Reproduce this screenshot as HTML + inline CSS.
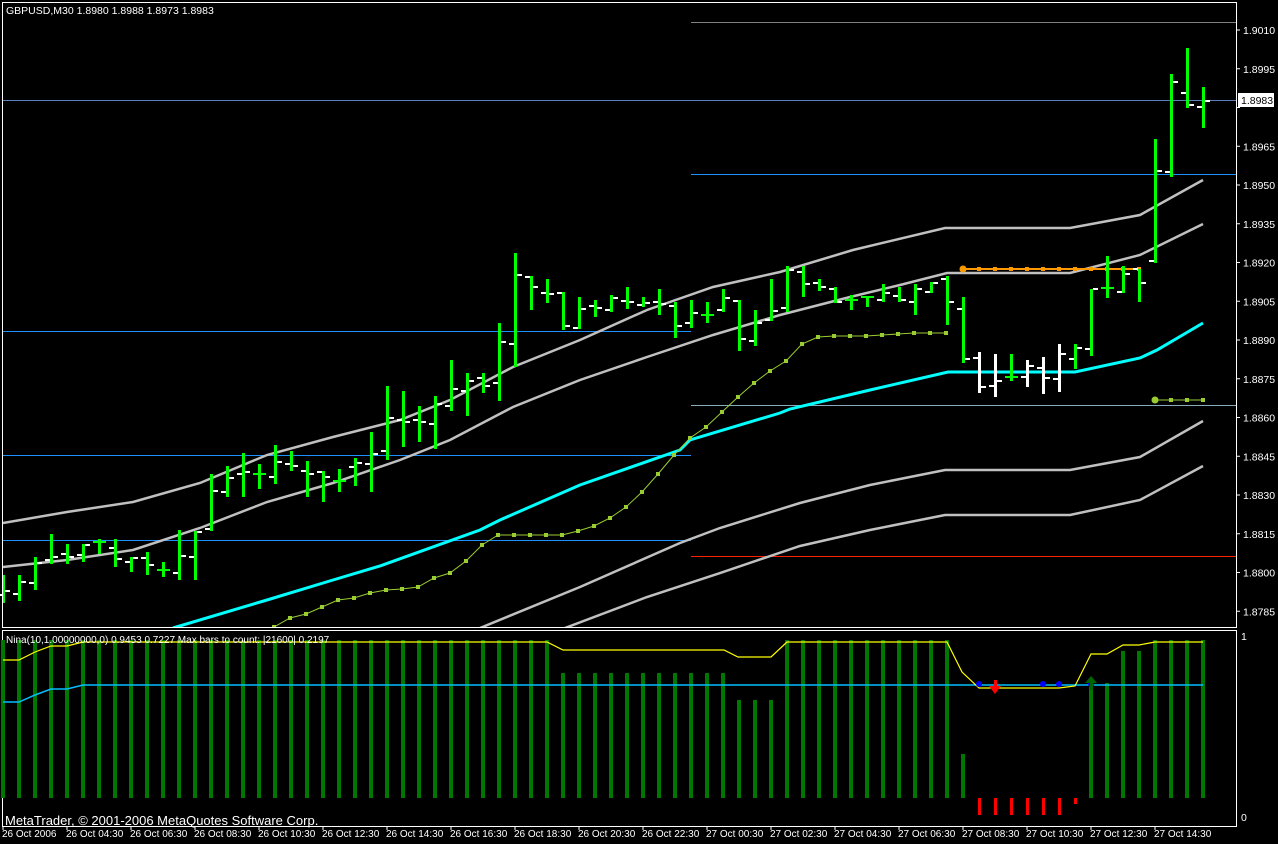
<!DOCTYPE html>
<html><head><meta charset="utf-8"><style>
html,body{margin:0;padding:0;background:#000;width:1278px;height:844px;overflow:hidden}
svg{display:block}
text{font-family:"Liberation Sans","DejaVu Sans",sans-serif;font-size:10.5px;fill:#fff}
</style></head><body>
<svg id="s" width="1278" height="844" xmlns="http://www.w3.org/2000/svg">
<defs><clipPath id="m"><rect x="3" y="3" width="1233" height="624"/></clipPath></defs>
<rect width="1278" height="844" fill="#000"/>
<g id="main" clip-path="url(#m)">
<line x1="691" y1="22.5" x2="1236" y2="22.5" stroke="#808080"/>
<line x1="3" y1="100.5" x2="1236" y2="100.5" stroke="#5a80c0"/>
<line x1="691" y1="174.5" x2="1236" y2="174.5" stroke="#1e90ff"/>
<line x1="3" y1="331.5" x2="691" y2="331.5" stroke="#1e90ff"/>
<line x1="691" y1="405.5" x2="1236" y2="405.5" stroke="#8ab"/>
<line x1="3" y1="455.5" x2="691" y2="455.5" stroke="#1e90ff"/>
<line x1="3" y1="540.5" x2="691" y2="540.5" stroke="#1e90ff"/>
<line x1="691" y1="556.5" x2="1236" y2="556.5" stroke="#ff2000"/>
<polyline fill="none" stroke="#c0c0c0" stroke-width="2.5" points="3,523 67,512 133,502 200,483 267,455 333,437 400,420 450,400 513,367 580,340 647,310 713,287 780,272 853,250 945,228 1070,228 1140,215 1203,180"/>
<polyline fill="none" stroke="#c0c0c0" stroke-width="2.5" points="3,567 67,560 133,550 200,528 267,502 333,483 400,460 450,440 513,407 580,380 647,357 713,335 780,315 850,297 900,285 947,273 1070,273 1140,255 1203,224"/>
<polyline fill="none" stroke="#c0c0c0" stroke-width="2.5" points="480,628 580,587 680,543 720,528 800,503 870,485 945,470 1070,470 1140,457 1203,421"/>
<polyline fill="none" stroke="#c0c0c0" stroke-width="2.5" points="565,628 647,597 720,573 800,546 870,530 945,515 1070,515 1140,500 1203,466"/>
<polyline fill="none" stroke="#00ffff" stroke-width="3" points="173,628 267,600 333,580 380,566 480,530 500,520 580,485 680,450 690,440 780,413 790,409 870,390 948,372 1075,372 1140,358 1157,350 1203,323"/>
<polyline id="yg" fill="none" stroke="#9acd32" stroke-width="1" points=""/>
<line x1="963" y1="269" x2="1139" y2="269" stroke="#ff9900" stroke-width="2"/>
<circle cx="963" cy="269" r="3.5" fill="#ff9900"/>
<line x1="1155" y1="400" x2="1203" y2="400" stroke="#9acd32" stroke-width="1"/>
<circle cx="1155" cy="400" r="3.5" fill="#9acd32"/>
</g>
<g id="bars"></g>
<rect x="2.5" y="2.5" width="1234" height="625" fill="none" stroke="#fff"/>
<rect x="2.5" y="630.5" width="1234" height="196" fill="none" stroke="#fff"/>
<text x="6" y="14">GBPUSD,M30  1.8980 1.8988 1.8973 1.8983</text>
<g id="ax"></g>
<rect x="1238" y="93" width="36" height="14" fill="#fff"/>
<text x="1241" y="104" style="fill:#000">1.8983</text>
<g id="ind"></g>
<text x="6" y="643" style="font-size:10px">Nina(10,1.00000000,0) 0.9453 0.7227  Max bars to count: |21600|  0.2197</text>
<text x="5" y="825" style="font-size:13px">MetaTrader, © 2001-2006 MetaQuotes Software Corp.</text>
<text x="1241" y="640">1</text>
<text x="1241" y="821">0</text>
</svg>
<script>
(function(){
var NS="http://www.w3.org/2000/svg";
function el(p,t,a){var e=document.createElementNS(NS,t);for(var k in a)e.setAttribute(k,a[k]);p.appendChild(e);return e;}
var D=[[575,603,595,591],[575,601,594,582],[557,590,583,563],[534,564,560,557],[544,564,554,557],[544,562,555,545],[539,554,542,542],[539,567,548,559],[557,572,562,558],[552,575,558,565],[562,577,570,570],[530,580,573,556],[531,580,557,532],[474,531,529,491],[466,497,492,478],[453,497,474,472],[464,489,474,474],[445,484,477,462],[451,471,464,466],[461,497,471,474],[471,502,472,477],[469,492,481,481],[458,486,467,463],[432,492,464,454],[386,460,451,418],
[391,447,420,422],[406,442,420,422],[396,449,424,404],[360,411,406,389],[373,416,391,381],[373,393,378,386],[323,401,383,342],[253,367,344,275],[276,310,277,287],[279,303,293,294],[292,330,293,326],[297,329,328,309],[300,317,306,308],[295,312,310,298],[287,309,301,302],[297,307,305,303],[289,315,302,304],[302,338,306,326],[300,328,323,313],[302,323,315,315],[289,312,310,298],[300,351,301,339],[310,346,341,323],[279,321,320,311],[266,312,308,270],[266,297,272,284],[279,291,283,287],[287,303,289,302],[295,310,300,300],[296,307,297,297],[284,302,300,293],[287,302,296,300],[284,315,302,289],[282,293,292,283],[276,325,279,302],[297,363,309,359],[352,393,358,387],[354,397,386,381],[354,381,377,377],[360,387,377,366],[357,394,368,378],[344,392,379,354],[344,369,359,348],[289,356,349,289],[256,298,288,288],[266,293,292,274],[269,302,269,283],[139,263,261,171],[74,177,172,82],[48,108,93,105],[87,128,107,101]];
var W={61:1,62:1,64:1,65:1,66:1};
var g=document.getElementById('bars');
D.forEach(function(b,i){var x=3+16*i,c=W[i]?'#ffffff':'#00ff00';
el(g,'rect',{x:x-1,y:b[0],width:3,height:b[1]-b[0],fill:c});
if(b[2]==b[3]){el(g,'rect',{x:x-6,y:b[2]-1,width:13,height:2,fill:c});}
else{el(g,'rect',{x:x-6,y:b[2]-1,width:5,height:2,fill:'#fff'});el(g,'rect',{x:x+2,y:b[3]-1,width:5,height:2,fill:'#fff'});}
});
var yg=[[274,627],[290,618],[306,614],[322,607],[338,600],[354,598],[370,593],[386,590],[402,589],[418,587],[434,578],[450,573],[466,561],[482,545],[498,535],[514,535],[530,535],[546,535],[562,535],[578,531],[594,526],[610,518],[626,507],[642,492],[658,474],[674,455],[690,438],[706,427],[722,412],[738,397],[754,383],[770,371],[786,361],[802,344],[818,337],[834,336],[850,336],[866,336],[882,335],[898,334],[914,333],[930,333],[946,333]];
document.getElementById('yg').setAttribute('points',yg.map(function(p){return p.join(',')}).join(' '));
var mg=document.getElementById('main');
yg.forEach(function(p){el(mg,'rect',{x:p[0]-2,y:p[1]-2,width:4,height:4,fill:'#9acd32'});});
for(var x=979;x<=1139;x+=16)el(mg,'rect',{x:x-2,y:267,width:4,height:4,fill:'#ff9900'});
for(x=1171;x<=1203;x+=16)el(mg,'rect',{x:x-2,y:398,width:4,height:4,fill:'#9acd32'});
var ax=document.getElementById('ax');
for(var k=0;k<16;k++){var y=30+k*38.75,v=(1.9010-k*0.0015).toFixed(4);
el(ax,'line',{x1:1236,y1:y,x2:1240,y2:y,stroke:'#fff'});
if(k!=2){var t=el(ax,'text',{x:1243,y:y+4});t.textContent=v;}}
var tl=['26 Oct 2006','26 Oct 04:30','26 Oct 06:30','26 Oct 08:30','26 Oct 10:30','26 Oct 12:30','26 Oct 14:30','26 Oct 16:30','26 Oct 18:30','26 Oct 20:30','26 Oct 22:30','27 Oct 00:30','27 Oct 02:30','27 Oct 04:30','27 Oct 06:30','27 Oct 08:30','27 Oct 10:30','27 Oct 12:30','27 Oct 14:30'];
tl.forEach(function(s,k){var x=3+64*k;el(ax,'line',{x1:x,y1:826,x2:x,y2:830,stroke:'#fff'});var t=el(ax,'text',{x:x-1,y:837,style:'font-size:10px'});t.textContent=s;});
var ig=document.getElementById('ind');
for(var i=0;i<76;i++){var bx=3+16*i,tp=640;
if(i>=35&&i<=45)tp=673;if(i>=46&&i<=48)tp=700;
if(i==60)tp=754;if(i==68||i==69)tp=683;if(i==70||i==71)tp=651;
if(i>=61&&i<=67){el(ig,'rect',{x:bx-1,y:798,width:3,height:i==67?6:17,fill:'#ff0000'});continue;}
el(ig,'rect',{x:bx-2,y:tp,width:4,height:798-tp,fill:'#007800'});}
el(ig,'polyline',{fill:'none',stroke:'#00bfff','stroke-width':1.5,points:'3,702 19,702 35,695 51,689 67,689 83,685 1203,685'});
el(ig,'polyline',{fill:'none',stroke:'#ffff00','stroke-width':1.2,points:'3,660 19,660 35,652 51,646 67,646 83,642 547,642 563,650 724,650 738,657 771,657 787,642 947,642 962,672 979,688 1059,688 1075,686 1091,654 1107,654 1123,645 1139,645 1155,642 1203,642'});
[979,1043,1059,1091].forEach(function(x){el(ig,'circle',{cx:x,cy:684,r:3,fill:'#0000ff'});});
el(ig,'rect',{x:994,y:680,width:3,height:8,fill:'#ff0000'});
el(ig,'polygon',{points:'989,686 1001,686 995,694',fill:'#ff0000'});
el(ig,'rect',{x:1090,y:680,width:3,height:10,fill:'#006400'});
el(ig,'polygon',{points:'1085,683 1097,683 1091,676',fill:'#006400'});
})();
</script>
</body></html>
